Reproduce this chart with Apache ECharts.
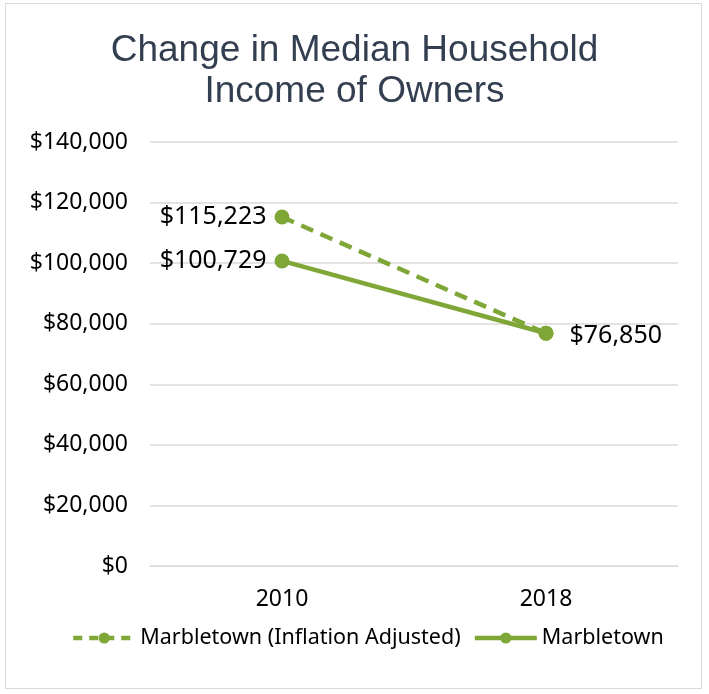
<!DOCTYPE html>
<html>
<head>
<meta charset="utf-8">
<script src="https://cdn.jsdelivr.net/npm/echarts@6/dist/echarts.min.js"></script>
<style>
  html, body { margin: 0; padding: 0; background: #fff; }
  #frame { position: absolute; left: 5px; top: 3px; width: 697px; height: 686px; border: 1px solid #d9d9d9; box-sizing: border-box; }
  #main { width: 709px; height: 694px; }
</style>
</head>
<body>
<div id="frame"></div>
<div id="main"></div>
<script>
  // chart data
  var years = ['2010', '2018'];
  var adjusted = [115223, 76850];
  var nominal = [100729, 76850];
  var seriesNames = ['Marbletown (Inflation Adjusted)', 'Marbletown'];

  var green = '#7fa738';
  var dash = [13, 8];
  var fmt = function (v) { return '$' + v.toLocaleString('en-US'); };
  var labelFont = { fontFamily: 'Noto Sans', fontSize: 25, color: '#000' };

  var myChart = echarts.init(document.getElementById('main'));
  option = {
      animation: false,
      title: {
          text: 'Change in Median Household\nIncome of Owners',
          left: 'center',
          top: 25,
          textStyle: {
              fontFamily: 'Liberation Sans',
              fontWeight: 'normal',
              fontSize: 37,
              lineHeight: 41,
              color: '#333f50'
          }
      },
      legend: {
          data: [
              { name: seriesNames[0], lineStyle: { width: 4.5, type: [9, 7] } },
              { name: seriesNames[1], lineStyle: { width: 4.5 } }
          ],
          top: 622,
          left: 66,
          itemWidth: 62,
          itemHeight: 14,
          itemGap: 12,
          textStyle: { fontFamily: 'Noto Sans', fontSize: 21.5, color: '#000' }
      },
      grid: {
          left: 150,
          right: 31,
          top: 142,
          bottom: 128
      },
      xAxis: {
          type: 'category',
          data: years,
          axisLine: { lineStyle: { color: '#d9d9d9' } },
          axisTick: { show: false },
          axisLabel: { fontFamily: 'Noto Sans', fontSize: 23, color: '#000', margin: 22 }
      },
      yAxis: {
          type: 'value',
          min: 0,
          max: 140000,
          interval: 20000,
          axisLine: { show: false },
          axisTick: { show: false },
          splitLine: { lineStyle: { color: '#d9d9d9', width: 1.5 } },
          axisLabel: {
              fontFamily: 'Noto Sans', fontSize: 23, color: '#000', margin: 22,
              formatter: fmt
          }
      },
      series: [
          {
              name: seriesNames[0],
              type: 'line',
              data: adjusted,
              symbol: 'circle',
              symbolSize: 15,
              itemStyle: { color: green },
              lineStyle: { color: green, width: 4.5, type: dash },
              label: Object.assign({
                  show: true,
                  formatter: function (p) { return p.dataIndex === 0 ? fmt(p.value) : ''; },
                  position: 'left',
                  distance: 8
              }, labelFont)
          },
          {
              name: seriesNames[1],
              type: 'line',
              data: nominal.map(function (v, i) {
                  return i === 1 ? { value: v, label: { position: 'right', distance: 16, offset: [0, 3] } } : v;
              }),
              symbol: 'circle',
              symbolSize: 15,
              itemStyle: { color: green },
              lineStyle: { color: green, width: 4.5 },
              label: Object.assign({
                  show: true,
                  formatter: function (p) { return fmt(p.value); },
                  position: 'left',
                  distance: 8
              }, labelFont)
          }
      ]
  };
  myChart.setOption(option);
  window.onresize = function () {
    myChart.resize();
  };
</script>
</body>
</html>
